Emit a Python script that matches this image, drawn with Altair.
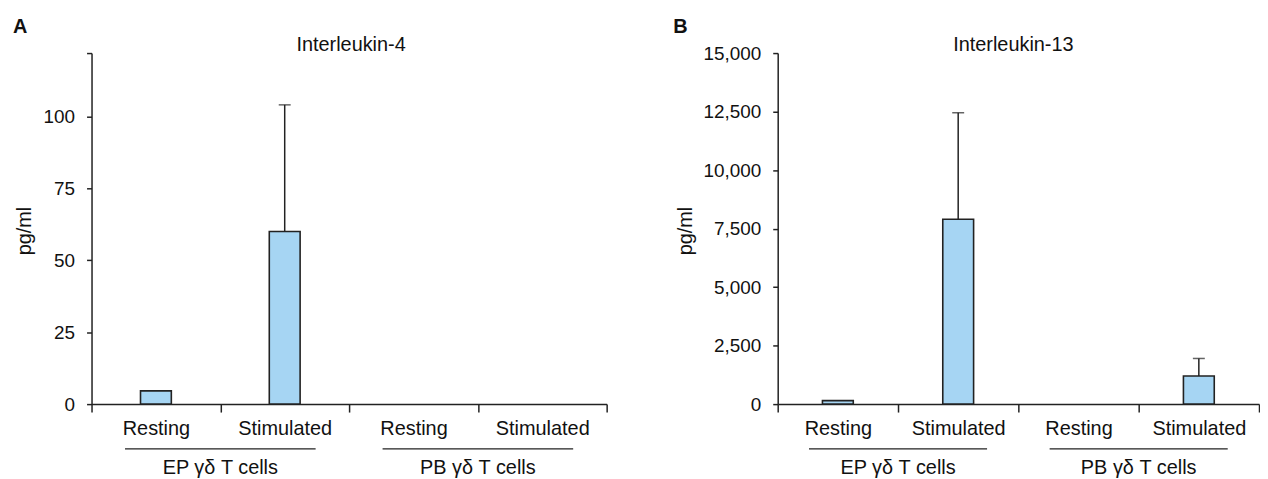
import altair as alt
import pandas as pd

# ---- data ----
categories = ["EP|Resting", "EP|Stimulated", "PB|Resting", "PB|Stimulated"]
cell_groups = ["EP γδ T cells", "PB γδ T cells"]
group_first_cat = ["EP|Resting", "PB|Resting"]
group_last_cat = ["EP|Stimulated", "PB|Stimulated"]

il4_mean = [4.6, 60, 0, 0]
il4_err_top = [None, 104, None, None]
il4_ticks = [0, 25, 50, 75, 100, 122]
il4_max = 122

il13_mean = [150, 7900, 0, 1200]
il13_err_top = [None, 12450, None, 1950]
il13_ticks = [0, 2500, 5000, 7500, 10000, 12500, 15000]
il13_max = 15000

BAR_FILL = "#A6D5F3"
INK = "#222222"
FONT = "Liberation Sans"
PLOT_H = 353


def panel(means, err_tops, ymax, yticks, hide_top, letter, title, width,
          letter_x, title_x, ytitle_x):
    df = pd.DataFrame({"cat": categories, "mean": means, "top": err_tops})
    xscale = alt.Scale(domain=categories, paddingInner=0, paddingOuter=0)
    x = alt.X("cat:N", sort=categories, scale=xscale,
              axis=alt.Axis(title=None, tickBand="extent", labelAngle=0,
                            labelExpr="split(datum.label, '|')[1]",
                            tickSize=8, labelPadding=7, labelFontSize=20,
                            labelColor="#111", domainColor=INK, tickColor=INK,
                            domainWidth=1.5, tickWidth=1.5, labelFont=FONT))
    label_expr = ("datum.value > %g ? '' : format(datum.value, ',')" % (ymax - 1)
                  if hide_top else "format(datum.value, ',')")
    y = alt.Y("mean:Q", scale=alt.Scale(domain=[0, ymax], nice=False, zero=True),
              axis=alt.Axis(values=yticks, grid=False, labelExpr=label_expr,
                            tickSize=5, labelPadding=12, labelFontSize=19,
                            labelColor="#111", domainColor=INK, tickColor=INK,
                            domainWidth=1.5, tickWidth=1.5, labelFont=FONT,
                            title="pg/ml", titleAngle=-90, titleX=ytitle_x,
                            titleY=PLOT_H / 2 + 2, titleAlign="center",
                            titleBaseline="alphabetic", titleFontSize=20,
                            titleFontWeight="normal", titleColor="#111",
                            titleFont=FONT))

    base = alt.Chart(df)
    bars = base.transform_filter("datum.mean > 0").mark_bar(
        width=31, fill=BAR_FILL, stroke=INK, strokeWidth=1.6).encode(x=x, y=y)
    err = base.transform_filter("isValid(datum.top)").mark_rule(
        color=INK, strokeWidth=1.5).encode(x=x, y="mean:Q", y2="top:Q")
    cap = base.transform_filter("isValid(datum.top)").mark_tick(
        orient="horizontal", size=12, thickness=1.5, color=INK).encode(x=x, y="top:Q")

    gdf = pd.DataFrame({"first": group_first_cat, "last": group_last_cat,
                        "group": cell_groups})
    underline = alt.Chart(gdf).mark_rule(color=INK, strokeWidth=1.2).encode(
        x=alt.X("first:N", sort=categories, bandPosition=0.26),
        x2=alt.X2("last:N", bandPosition=0.74),
        y=alt.value(PLOT_H + 45))
    glabel = alt.Chart(gdf).mark_text(fontSize=20, baseline="alphabetic", align="center",
                                      color="#111", font=FONT).encode(
        x=alt.X("last:N", sort=categories, bandPosition=0),
        y=alt.value(PLOT_H + 70), text="group:N")

    tdf = pd.DataFrame({"letter": [letter], "title": [title]})
    let = alt.Chart(tdf).mark_text(fontSize=20, fontWeight="bold", align="left",
                                   baseline="alphabetic", color="#111", font=FONT).encode(
        x=alt.value(letter_x), y=alt.value(-20), text="letter:N")
    ttl = alt.Chart(tdf).mark_text(fontSize=20, align="center", baseline="alphabetic",
                                   color="#111", font=FONT).encode(
        x=alt.value(title_x), y=alt.value(-2), text="title:N")

    return alt.layer(bars, err, cap, underline, glabel, let, ttl).properties(
        width=width, height=PLOT_H)


pa = panel(il4_mean, il4_err_top, il4_max, il4_ticks, True, "A", "Interleukin-4", 518,
           -79, 261, -61)
pb = panel(il13_mean, il13_err_top, il13_max, il13_ticks, False, "B", "Interleukin-13", 484,
           -105, 237, -87)

chart = alt.hconcat(pa, pb, spacing=172, bounds="flush").properties(
    padding={"left": 5, "top": 8, "right": 0, "bottom": 0}
).configure(font=FONT).configure_view(stroke=None)

chart.save("out.html", embed_options={"renderer": "svg", "actions": False})
